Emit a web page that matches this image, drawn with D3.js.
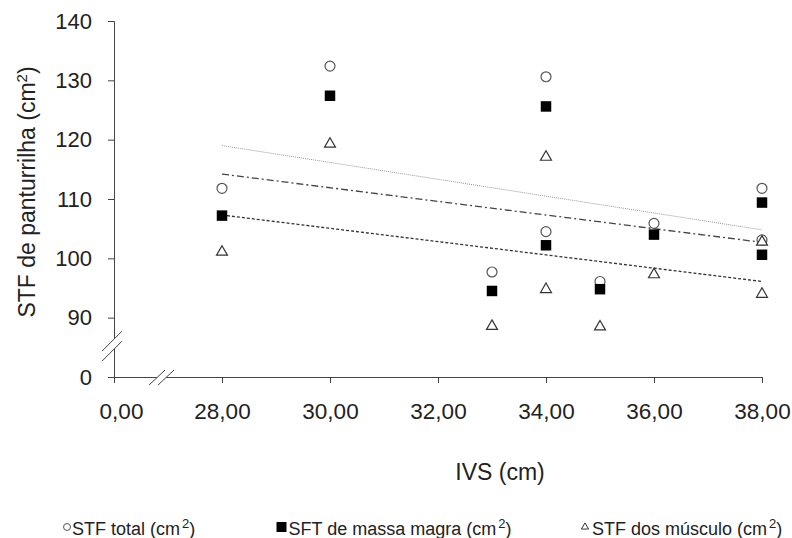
<!DOCTYPE html>
<html>
<head>
<meta charset="utf-8">
<script src="https://cdn.jsdelivr.net/npm/d3@7"></script>
<style>
  body { margin: 0; background: #fff; }
  svg { display: block; font-family: "Liberation Sans", Arial, sans-serif; }
</style>
</head>
<body>
<div id="chart"></div>
<script>
// IVS values (x) for each subject
var ivs = [28, 30, 33, 34, 34, 35, 36, 38, 38];
// three series (cm2)
var stfTotal = [111.8, 132.4, 97.7, 130.6, 104.5, 96.1, 105.9, 111.8, 103.1];
var sftMassaMagra = [107.2, 127.4, 94.5, 125.6, 102.2, 94.8, 104.0, 109.4, 100.6];
var stfMusculo = [101.3, 119.5, 88.8, 117.3, 95.0, 88.7, 97.5, 103.0, 94.2];

// trend lines at both ends
var trendTotal = [[28, 119.0], [38, 104.8]];
var trendMassa = [[28, 114.2], [38, 102.7]];
var trendMusculo = [[28, 107.3], [38, 96.1]];

// broken axes: first tick stands for zero
var xTickValues = [26, 28, 30, 32, 34, 36, 38];
var xTickLabels = ["0,00", "28,00", "30,00", "32,00", "34,00", "36,00", "38,00"];
var yTickValues = [80, 90, 100, 110, 120, 130, 140];
var yTickLabels = ["0", "90", "100", "110", "120", "130", "140"];

var W = 792, H = 538;
var plotLeft = 114, plotRight = 762, plotTop = 21, plotBottom = 377;
var ink = "#222";

var svg = d3.select("#chart").append("svg")
  .attr("width", W)
  .attr("height", H);

var x = d3.scaleLinear().domain([26, 38]).range([plotLeft, plotRight]);
var y = d3.scaleLinear().domain([80, 140]).range([plotBottom, plotTop]);

// x axis
var xAxis = svg.append("g")
  .attr("transform", "translate(0," + plotBottom + ")")
  .call(d3.axisBottom(x)
    .tickValues(xTickValues)
    .tickFormat((d, i) => xTickLabels[i])
    .tickSizeOuter(0)
    .tickSize(6)
    .tickPadding(20));
xAxis.select(".domain").attr("stroke", "#444");
xAxis.selectAll(".tick line").attr("stroke", "#444");
xAxis.selectAll("text")
  .attr("fill", ink)
  .style("font-size", "22.5px")
  .attr("dx", (d, i) => i === 0 ? 7 : 0);

// y axis
var yAxis = svg.append("g")
  .attr("transform", "translate(" + plotLeft + ",0)")
  .call(d3.axisLeft(y)
    .tickValues(yTickValues)
    .tickFormat((d, i) => yTickLabels[i])
    .tickSizeOuter(0)
    .tickSize(6)
    .tickPadding(16));
yAxis.select(".domain").attr("stroke", "#444");
yAxis.selectAll(".tick line").attr("stroke", "#444");
yAxis.selectAll("text")
  .attr("fill", ink)
  .style("font-size", "22px");

// break marks
var yb = svg.append("g").attr("transform", "translate(" + (plotLeft - 2) + "," + y(85.2) + ")");
yb.append("path")
  .attr("d", "M-10,5 L10,-15 L10,-5 L-10,15 Z")
  .attr("fill", "#fff");
yb.append("line").attr("x1", -10).attr("y1", 5).attr("x2", 10).attr("y2", -15)
  .attr("stroke", "#444");
yb.append("line").attr("x1", -10).attr("y1", 15).attr("x2", 10).attr("y2", -5)
  .attr("stroke", "#444");

var xb = svg.append("g").attr("transform", "translate(" + x(26.89) + "," + plotBottom + ")");
xb.append("path").attr("d", "M-13,8 L3,-7 L12,-7 L-4,8 Z").attr("fill", "#fff");
xb.append("line").attr("x1", -13).attr("y1", 8).attr("x2", 3).attr("y2", -7)
  .attr("stroke", "#444");
xb.append("line").attr("x1", -4).attr("y1", 8).attr("x2", 12).attr("y2", -7)
  .attr("stroke", "#444");

// trend lines
var line = d3.line().x(d => x(d[0])).y(d => y(d[1]));
svg.append("path").datum(trendTotal)
  .attr("d", line).attr("fill", "none")
  .attr("stroke", "#999").attr("stroke-width", 1)
  .attr("stroke-dasharray", "1,1");
svg.append("path").datum(trendMassa)
  .attr("d", line).attr("fill", "none")
  .attr("stroke", "#444").attr("stroke-width", 1.3)
  .attr("stroke-dasharray", "7,3,2,3");
svg.append("path").datum(trendMusculo)
  .attr("d", line).attr("fill", "none")
  .attr("stroke", "#333").attr("stroke-width", 1.3)
  .attr("stroke-dasharray", "3,2");

// markers
var circleSym = d3.symbol().type(d3.symbolCircle).size(78);
var squareSym = d3.symbol().type(d3.symbolSquare).size(110);
var triSym = d3.symbol().type(d3.symbolTriangle).size(52);

svg.append("g").selectAll("path")
  .data(stfTotal)
  .enter().append("path")
  .attr("d", circleSym)
  .attr("transform", (d, i) => "translate(" + x(ivs[i]) + "," + y(d) + ")")
  .attr("fill", "#fff")
  .attr("stroke", "#555")
  .attr("stroke-width", 1.2);

svg.append("g").selectAll("path")
  .data(sftMassaMagra)
  .enter().append("path")
  .attr("d", squareSym)
  .attr("transform", (d, i) => "translate(" + x(ivs[i]) + "," + y(d) + ")")
  .attr("fill", "#000");

svg.append("g").selectAll("path")
  .data(stfMusculo)
  .enter().append("path")
  .attr("d", triSym)
  .attr("transform", (d, i) => "translate(" + x(ivs[i]) + "," + (y(d) + 1.4) + ")")
  .attr("fill", "#fff")
  .attr("stroke", "#333")
  .attr("stroke-width", 1.2);

// axis titles
svg.append("text")
  .attr("x", 500)
  .attr("y", 480)
  .attr("text-anchor", "middle")
  .attr("fill", ink)
  .style("font-size", "23px")
  .text("IVS (cm)");

var yTitle = svg.append("text")
  .attr("transform", "translate(35,192) rotate(-90)")
  .attr("text-anchor", "middle")
  .attr("fill", ink)
  .style("font-size", "23px");
yTitle.append("tspan").text("STF de panturrilha (cm");
yTitle.append("tspan").attr("dy", -8).style("font-size", "15px").text("2");
yTitle.append("tspan").attr("dy", 8).text(")");

// legend
var legendItems = [
  {label: "STF total (cm", sym: d3.symbol().type(d3.symbolCircle).size(38), mx: 67, tx: 72, fill: "#fff", stroke: "#555"},
  {label: "SFT de massa magra (cm", sym: d3.symbol().type(d3.symbolSquare).size(100), mx: 281.5, tx: 288.5, fill: "#000", stroke: "none"},
  {label: "STF dos músculo (cm", sym: d3.symbol().type(d3.symbolTriangle).size(22), mx: 585, tx: 592, fill: "#fff", stroke: "#333"}
];
var legendY = 535;
legendItems.forEach(function(item) {
  svg.append("path")
    .attr("d", item.sym)
    .attr("transform", "translate(" + item.mx + "," + (legendY - 8) + ")")
    .attr("fill", item.fill)
    .attr("stroke", item.stroke);
  var t = svg.append("text")
    .attr("x", item.tx)
    .attr("y", legendY)
    .attr("fill", ink)
    .style("font-size", "18px");
  t.append("tspan").text(item.label);
  t.append("tspan").attr("dy", -7).attr("dx", 2).style("font-size", "13px").text("2");
  t.append("tspan").attr("dy", 7).text(")");
});
</script>
</body>
</html>
